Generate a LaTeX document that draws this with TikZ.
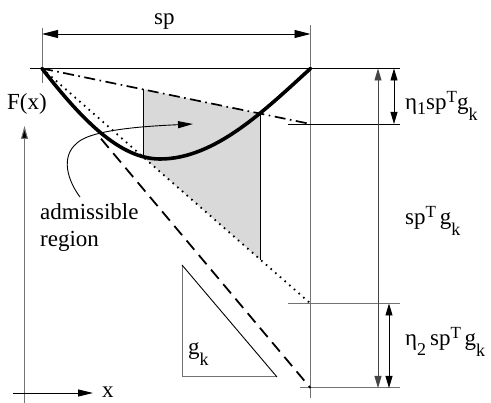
\documentclass[tikz,border=0pt]{standalone}
\usepackage{fontspec}
\setmainfont{Liberation Serif}
\newfontfamily\figfont{Liberation Serif}
\usetikzlibrary{arrows.meta}
\newcommand{\lsub}[2][0.45em]{\raisebox{-#1}{\fontsize{18}{18}\selectfont #2}}
\newcommand{\lsup}[1]{\raisebox{0.33em}{\fontsize{17}{17}\selectfont #1}}
\definecolor{regionfill}{gray}{0.85}
\definecolor{figgray}{gray}{0.45}
\begin{document}
\begin{tikzpicture}[x=1pt,y=-1pt,
  lbl/.style={inner sep=0pt,anchor=base west,font=\figfont\fontsize{23}{27}\selectfont},
  thinline/.style={line width=0.9pt},
  grayline/.style={line width=1pt,draw=figgray},
  dimarrow/.style={line width=0.9pt,{Triangle[length=12pt,width=7pt]}-{Triangle[length=12pt,width=7pt]}},
  onearrow/.style={line width=0.9pt,-{Triangle[length=15pt,width=7pt]}}]
\useasboundingbox (0,0) rectangle (491,403);
% key coordinates
\coordinate (O) at (42,68.5);
\coordinate (R) at (310.5,68.5);
\coordinate (A) at (310.5,124);
\coordinate (B) at (310.5,303.5);
\coordinate (C) at (310.5,388);
\coordinate (D0) at (101,138.7);
\coordinate (S1) at (143,89.4);
\coordinate (S2) at (260.5,113.7);
\coordinate (S3) at (260.5,259.7);
\coordinate (S4) at (143,156.9);
% shaded admissible region
\fill[regionfill] (S1) -- (S2) -- (S3) -- (S4) -- cycle;
\draw[thinline] (S1) -- (S4);
\draw[thinline] (S2) -- (S3);
% vertical gray guides
\draw[grayline] (42,28) -- (42,83);
\draw[grayline] (310.5,25) -- (310.5,398);
% horizontal reference lines
\draw[thinline] (30,68.5) -- (400,68.5);
\draw[thinline] (288,124) -- (400,124);
\draw[grayline] (288,303.5) -- (400,303.5);
\draw[grayline] (300,388) -- (400,388);
% sp dimension
\coordinate (spL) at (42,34);
\coordinate (spR) at (310.5,34);
\draw[line width=0.9pt,{Triangle[length=16pt,width=8pt]}-{Triangle[length=16pt,width=8pt]}] (spL) -- (spR);
\node[lbl] (spl) at (154,25) {sp};
% lines through O
\draw[line width=1.7pt,dash pattern=on 11pt off 4.5pt on 1.6pt off 4.5pt] (O) -- (A);
\draw[line width=1.8pt,dash pattern=on 1.6pt off 4.6pt] (O) -- (B);
\draw[line width=1.8pt,dash pattern=on 12pt off 7pt] (D0) -- (C);
% the function curve
\draw[line width=3.6pt,line cap=round] (O) .. controls (82,120) and (120,159) .. (160,159)
  .. controls (215,159) and (265,110) .. (R);
% curved arrow from the label into the region
\coordinate (c0) at (80,197);
\coordinate (c1) at (77,143);
\coordinate (c2) at (193,124);
\draw[onearrow] (c0) .. controls (68,181) and (60,157) .. (c1)
  .. controls (92,129) and (150,126) .. (c2);
\node[lbl] (adm) at (40,220) {admissible};
\node[lbl] (reg) at (40,247) {region};
% right-hand dimensions
\coordinate (L1) at (378,68.5);
\coordinate (L2) at (378,388);
\draw[dimarrow,draw=figgray!60!black] (L1) -- (L2);
\coordinate (E1a) at (394,68.5);
\coordinate (E1b) at (394,124);
\draw[dimarrow] (E1a) -- (E1b);
\coordinate (E2a) at (389,303.5);
\coordinate (E2b) at (389,388);
\draw[dimarrow] (E2a) -- (E2b);
\node[lbl] (eta1) at (405,110) {η\lsub[0.2em]{1}sp\lsup{T}g\lsub{k}};
\node[lbl] (spg) at (405,225) {sp\lsup{T}\,g\lsub{k}};
\node[lbl] (eta2) at (405,346) {η\lsub[0.4em]{2}\,sp\lsup{T}\,g\lsub{k}};
% gradient triangle
\coordinate (T1) at (182,265);
\coordinate (T2) at (182,377);
\coordinate (T3) at (277,377);
\draw[grayline] (T1) -- (T2) -- (T3);
\draw[thinline] (T3) -- (T1);
\node[lbl] (gk) at (188,355) {g\lsub{k}};
% axes
\coordinate (ax0) at (24.5,403);
\coordinate (axy) at (24.5,126);
\coordinate (axa) at (13,393);
\coordinate (axx) at (93,393);
\draw[grayline,-{Triangle[length=13pt,width=7pt,fill=black]}] (ax0) -- (axy);
\draw[onearrow] (axa) -- (axx);
\node[lbl] (Fx) at (7,110) {F(x)};
\node[lbl] (xl) at (102,398) {x};
\end{tikzpicture}
\end{document}
